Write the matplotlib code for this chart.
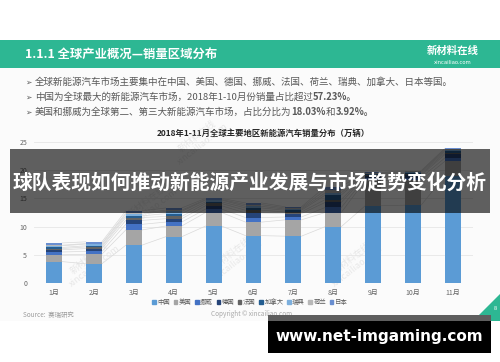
import matplotlib
matplotlib.use('Agg')
import matplotlib.pyplot as plt
from matplotlib.patches import Rectangle, Polygon
import numpy as np

plt.rcParams['font.family'] = ['Noto Sans CJK SC', 'DejaVu Sans']

# ---------------- data ----------------
months = ['1月', '2月', '3月', '4月', '5月', '6月', '7月', '8月', '9月', '10月', '11月']
series_names = ['中国', '美国', '挪威', '德国', '法国', '加拿大', '瑞典', '荷兰', '日本']
china       = [3.8, 3.4, 6.7, 8.2, 10.1, 8.4, 8.3, 10.0, 13.7, 13.8, 19.0]
usa         = [1.2, 1.7, 2.7, 1.9, 2.4, 2.4, 2.9, 2.5, 4.5, 4.4, 2.6]
norway      = [0.5, 0.5, 1.0, 0.7, 0.6, 0.8, 0.5, 0.9, 0.4, 0.5, 0.6]
germany     = [0.4, 0.5, 0.7, 0.6, 0.6, 0.8, 0.6, 0.9, 0.3, 0.4, 0.6]
france      = [0.2, 0.3, 0.5, 0.4, 0.4, 0.5, 0.3, 0.5, 0.2, 0.2, 0.3]
canada      = [0.2, 0.2, 0.3, 0.5, 0.3, 0.4, 0.3, 0.8, 0.2, 0.2, 0.3]
sweden      = [0.3, 0.3, 0.3, 0.4, 0.3, 0.3, 0.2, 0.4, 0.1, 0.2, 0.2]
netherlands = [0.1, 0.1, 0.2, 0.2, 0.1, 0.3, 0.2, 0.5, 0.1, 0.1, 0.2]
japan       = [0.4, 0.3, 0.4, 0.4, 0.2, 0.3, 0.2, 0.6, 0.1, 0.1, 0.1]
series_values = [china, usa, norway, germany, france, canada, sweden, netherlands, japan]
y_ticks = [0, 5, 10, 15, 20, 25]

header_title = '1.1.1 全球产业概况—销量区域分布'
chart_title = '2018年1-11月全球主要地区新能源汽车销量分布（万辆）'
bullets = [
    [('全球新能源汽车市场主要集中在中国、美国、德国、挪威、法国、荷兰、瑞典、加拿大、日本等国。', 'normal')],
    [('中国为全球最大的新能源汽车市场，2018年1-10月份销量占比超过', 'normal'), ('57.23%。', 'bold')],
    [('美国和挪威为全球第二、第三大新能源汽车市场，占比分比为', 'normal'), ('18.03%', 'bold'),
     ('和', 'normal'), ('3.92%。', 'bold')],
]
banner_text = '球队表现如何推动新能源产业发展与市场趋势变化分析'
site_text = 'www.net-imgaming.com'

colors = ['#5B9BD5', '#A5A5A5', '#4472C4', '#264478', '#636363',
          '#255E91', '#7CAFDD', '#B7B7B7', '#698ED0']

# ---------------- figure ----------------
W, H = 500, 362
fig = plt.figure(figsize=(5, 3.62), dpi=100)
fig.patch.set_facecolor('white')

bg = fig.add_axes([0, 0, 1, 1], zorder=0)
bg.set_xlim(0, W); bg.set_ylim(H, 0); bg.axis('off')

# slide background and header
bg.add_patch(Rectangle((0, 40), W, 281, color='#fbfbfb', lw=0))
bg.add_patch(Rectangle((0, 40), W, 28, color='#2db793', lw=0))
bg.text(25, 54.5, header_title, color='white', fontsize=8.9, fontweight='bold',
        va='center', ha='left')
bg.text(453, 51, '新材料在线', color='white', fontsize=7.5, fontweight='bold',
        va='center', ha='center')
bg.text(453, 63, 'xincailiao.com', color='white', fontsize=3.8,
        va='center', ha='center', family='DejaVu Sans')

renderer = fig.canvas.get_renderer()
line_y = [82.5, 97, 112]
for yy, runs in zip(line_y, bullets):
    bg.text(25, yy, '➢', color='#595959', fontsize=5.5, va='center', ha='left',
            family=['DejaVu Sans'])
    x = 35
    for txt, wt in runs:
        t = bg.text(x, yy, txt, color='#595959', fontsize=6.85, fontweight=wt,
                    va='center', ha='left')
        bb = t.get_window_extent(renderer)
        x += bb.width

# chart title
bg.text(263, 133, chart_title, color='#262626', fontsize=6.0, fontweight='bold',
        ha='center', va='center')

# watermarks
for (wx, wy) in [(92, 262), (235, 257), (355, 262), (200, 140), (150, 205)]:
    bg.text(wx, wy, '新材料在线\nxincailiao.com', color='#cfcfcf', alpha=0.45,
            fontsize=6.5, rotation=38, ha='center', va='center', linespacing=1.0)

# ---------------- chart ----------------
ax = fig.add_axes([34 / W, (H - 283) / H, 439 / W, 141 / H], zorder=2)
ax.patch.set_alpha(0)
x = np.arange(len(months))
bw = 0.4
bottom = np.zeros(len(months))
tops = []
for name, vals, c in zip(series_names, series_values, colors):
    v = np.array(vals)
    ax.bar(x, v, bw, bottom=bottom, color=c, label=name, lw=0, zorder=3)
    bottom = bottom + v
    tops.append(bottom.copy())
# series lines between bars
for tp in tops:
    for i in range(len(months) - 1):
        ax.plot([x[i] + bw / 2, x[i + 1] - bw / 2], [tp[i], tp[i + 1]],
                color='#d9d9d9', lw=0.5, zorder=2)

ax.set_xlim(-0.5, len(months) - 0.5)
ax.set_ylim(0, 25)
ax.set_yticks(y_ticks)
ax.set_yticklabels([str(v) for v in y_ticks])
ax.set_xticks(x)
ax.set_xticklabels(months)
ax.tick_params(axis='both', length=0, labelsize=5, colors='#666666')
ax.tick_params(axis='y', pad=5)
ax.tick_params(axis='x', pad=4)
ax.yaxis.grid(True, color='#e6e6e6', lw=0.6, zorder=0)
ax.set_axisbelow(True)
for s in ax.spines.values():
    s.set_visible(False)

handles = [Rectangle((0, 0), 1, 1, color=c) for c in colors]
fig.legend(handles, series_names, loc='center', bbox_to_anchor=(250 / W, 1 - 302 / H),
           ncol=9, fontsize=4.6, frameon=False, handlelength=0.55, handleheight=0.55,
           handletextpad=0.25, columnspacing=0.55, labelcolor='#595959')

# footer of slide
bg.text(23, 315, 'Source:  赛瑞研究', color='#9a9a9a', fontsize=4.6, style='italic',
        ha='left', va='center')
bg.text(252, 313.5, 'Copyright © xincailiao.com', color='#a8a8a8', fontsize=4.6,
        ha='center', va='center')

# ---------------- overlay ----------------
ov = fig.add_axes([0, 0, 1, 1], zorder=5)
ov.set_xlim(0, W); ov.set_ylim(H, 0); ov.axis('off')
ov.add_patch(Polygon([(473, 321), (500, 321), (500, 294)], closed=True,
                     color='#2db793', lw=0))
ov.add_patch(Rectangle((10, 149), 480, 64, color='black', alpha=0.62, lw=0))
ov.text(250, 182, banner_text, color='white', fontsize=14.2, fontweight='bold',
        ha='center', va='center')
ov.add_patch(Rectangle((268, 315), 223, 6, color='#5e5e5e', lw=0))
ov.add_patch(Rectangle((268, 321), 223, 32, color='black', lw=0))
ov.text(379.5, 337, site_text, color='white', fontsize=11, fontweight='bold',
        ha='center', va='center', family='DejaVu Sans')
ov.text(495, 309, '8', color='white', fontsize=4, ha='center', va='center')

fig.savefig('out.png', dpi=100)
